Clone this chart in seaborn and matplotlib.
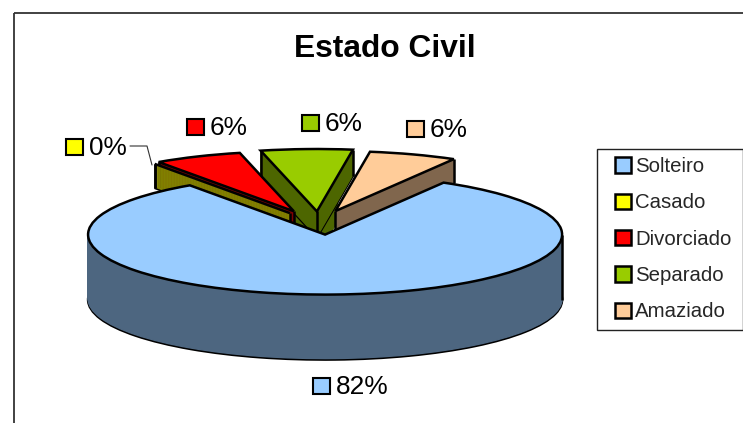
import numpy as np
import matplotlib
matplotlib.use('Agg')
import matplotlib.pyplot as plt
import matplotlib.transforms as mtrans
from matplotlib.patches import Rectangle
import seaborn as sns

categories = ['Solteiro', 'Casado', 'Divorciado', 'Separado', 'Amaziado']
percents = [82, 0, 6, 6, 6]
top_hex = ['#99ccff', '#ffff00', '#ff0000', '#99cc00', '#ffcc99']

sns.set_style('white')
plt.rcParams['font.family'] = ['Liberation Sans', 'DejaVu Sans']

W, H = 743, 423
RX, RY = 237.0, 60.0     # ellipse radii in pixels
CX, CY = 322.0, 222.0    # pie centre in pixels

top_colors = sns.color_palette(top_hex)
wall_colors = [tuple(np.array(c) * 0.5) for c in top_colors]
explode = [0.21, 0.2, 0.25, 0.21, 0.21]
# the reference has perspective: walls at the back are much lower than at the front
depths = [65, 24, 24, 26, 24]
radii = [1, 1, 1, 1.04, 1]
# small shifts in pixels (x, y down) to sit where the reference slices sit
nudge = [(1, 0), (-5, 1), (-4, 3), (-3, 2), (-3, 1)]
# back slices first, the big one in front of everything
stack_order = {4: 1, 3: 2, 2: 3, 1: 4, 0: 5}

fig = plt.figure(figsize=(W / 100, H / 100), dpi=100)
ax = fig.add_axes([0, 0, 1, 1])

# pixel coordinates, y downwards, for the labels and the frame
px = mtrans.Affine2D().scale(1, -1).translate(0, H)


def draw_layer(k, colors):
    wedges, _ = ax.pie(percents, explode=explode, colors=colors, startangle=60,
                       counterclock=False, radius=1, center=(0, -k / RY))
    for i, w in enumerate(wedges):
        if k > depths[i]:
            w.remove()
            continue
        cx, cy = w.center
        w.set_center((cx + nudge[i][0] / RX, cy - nudge[i][1] / RY))
        w.set_radius(radii[i])
        if k == 0 or k == depths[i]:
            w.set_edgecolor('black')
            w.set_linewidth(1.8)
        else:
            w.set_edgecolor(wall_colors[i])
            w.set_linewidth(1)
        if k == 0:
            w.set_zorder(stack_order[i] * 10 + 7)
        else:
            w.set_zorder(stack_order[i] * 10 + (1 - k / depths[i]) * 5)
    return wedges


# the dark pit round the apex of the Separado slice, behind all the other walls
for k in range(45, 0, -1):
    wedges, _ = ax.pie(percents, explode=explode, colors=wall_colors, startangle=60,
                       counterclock=False, radius=1, center=(0, -k / RY))
    for i, w in enumerate(wedges):
        if i != 3:
            w.remove()
            continue
        cx, cy = w.center
        w.set_center((cx + nudge[i][0] / RX, cy - nudge[i][1] / RY))
        w.set_radius(0.6)
        w.set_edgecolor(wall_colors[i])
        w.set_linewidth(1)
        w.set_zorder(5)

# side walls: the pie repeated downwards, darker
for k in range(max(depths), 0, -1):
    draw_layer(k, wall_colors)

top = draw_layer(0, top_colors)

# vertical edges at the corners of each slice
for i, w in enumerate(top):
    cx, cy = w.center
    r = w.r
    pts = [(cx + r * np.cos(np.radians(a)), cy + r * np.sin(np.radians(a))) for a in (w.theta1, w.theta2)]
    if percents[i] < 50:
        pts.append((cx, cy))
    for a in (0, 180, 360):
        if w.theta1 <= a <= w.theta2:
            pts.append((cx + r * np.cos(np.radians(a)), cy))
    for x, y in pts:
        ax.plot([x, x], [y, y - depths[i] / RY], color='black', lw=1.8,
                solid_capstyle='butt', zorder=stack_order[i] * 10 + 6)

ax.set_aspect('auto')
ax.set_xlim(-CX / RX, (W - CX) / RX)
ax.set_ylim(-(H - CY) / RY, CY / RY)

# outer chart frame, runs off the image on the right and the bottom
fig.add_artist(Rectangle((13.5, 12.5), W + 20, H + 20, transform=px, fill=False,
                         edgecolor='#333333', lw=1.3))

ax.text(385, 49, 'Estado Civil', transform=px, ha='center', va='center',
        fontsize=22.9, fontweight='bold', color='black')

# data labels with their little colour keys (x, y of the key's top left corner)
key_pos = [(312, 377), (65, 138), (186, 118), (301, 114), (406, 120)]
for i, (x, y) in enumerate(key_pos):
    ax.add_patch(Rectangle((x + 0.5, y + 0.5), 17, 16.5, transform=px, facecolor=top_colors[i],
                           edgecolor='black', lw=1.5, zorder=200, clip_on=False))
    ax.text(x + 23.5, y + 7.5, f'{percents[i]}%', transform=px, ha='left', va='center_baseline',
            fontsize=18.9, color='black', zorder=200)

# leader line of the 0% label
ax.plot([130, 147, 152], [146, 146, 165], transform=px, color='#333333', lw=0.8, zorder=200)

# legend box drawn apart so its padding can differ between sides
ax.add_patch(Rectangle((597, 148.5), 146, 181, transform=px, facecolor='white',
                       edgecolor='#222222', lw=1, zorder=290, clip_on=False))
leg = ax.legend(top, categories, loc='upper left', bbox_to_anchor=(615, 157),
                bbox_transform=px, borderaxespad=0, fontsize=14.7, frameon=False,
                handlelength=0.78, handleheight=0.78, handletextpad=0.2,
                labelspacing=0.85, borderpad=0)
leg.set_zorder(300)

fig.savefig('out.png', dpi=100, facecolor='white')
